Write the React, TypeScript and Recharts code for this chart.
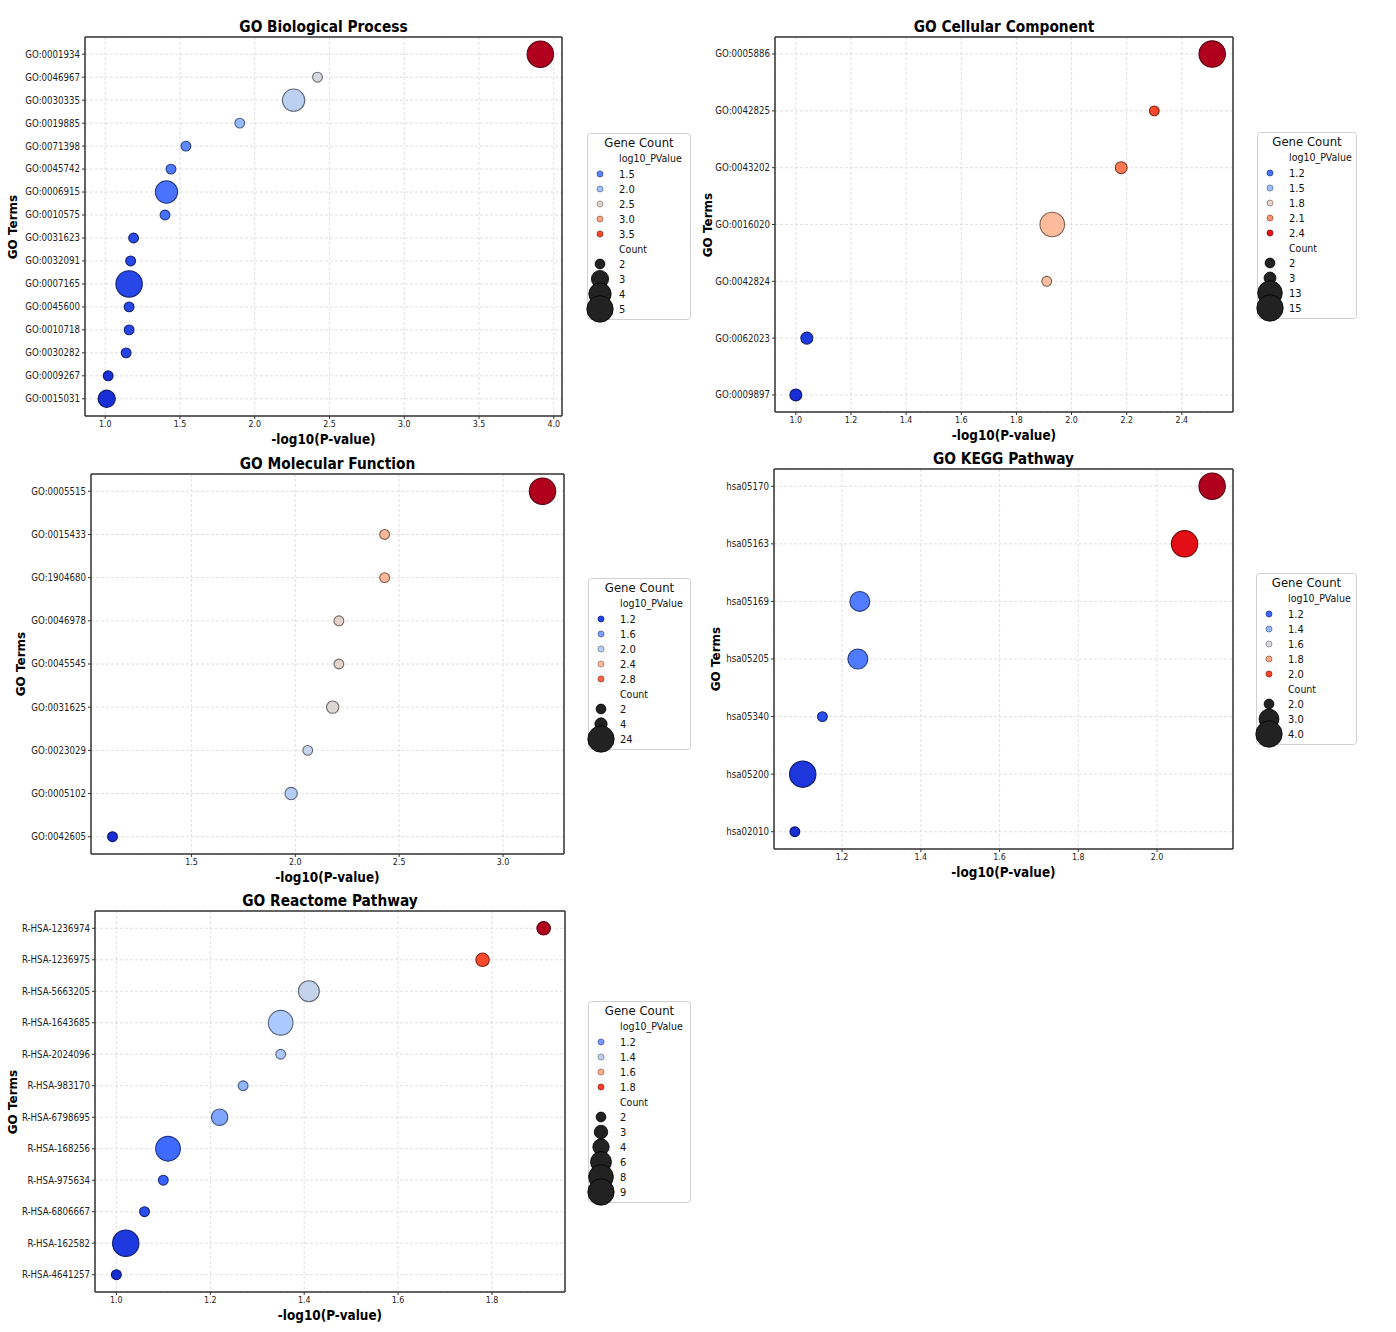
import React from "react";
import { ScatterChart, Scatter, XAxis, YAxis, ZAxis, CartesianGrid, Cell, ReferenceLine } from "recharts";

// GO Biological Process
const bpTerms = ["GO:0001934", "GO:0046967", "GO:0030335", "GO:0019885", "GO:0071398", "GO:0045742", "GO:0006915", "GO:0010575", "GO:0031623", "GO:0032091", "GO:0007165", "GO:0045600", "GO:0010718", "GO:0030282", "GO:0009267", "GO:0015031"];
const bpLogP = [3.91, 2.42, 2.26, 1.9, 1.54, 1.44, 1.41, 1.4, 1.19, 1.17, 1.16, 1.16, 1.16, 1.14, 1.02, 1.01];
const bpCount = [5, 2, 4, 2, 2, 2, 4, 2, 2, 2, 5, 2, 2, 2, 2, 3];
const bpXTicks = [1.0, 1.5, 2.0, 2.5, 3.0, 3.5, 4.0];
const bpColorTicks = [1.5, 2.0, 2.5, 3.0, 3.5];
const bpCountTicks = [2, 3, 4, 5];

// GO Cellular Component
const ccTerms = ["GO:0005886", "GO:0042825", "GO:0043202", "GO:0016020", "GO:0042824", "GO:0062023", "GO:0009897"];
const ccLogP = [2.51, 2.3, 2.18, 1.93, 1.91, 1.04, 1.0];
const ccCount = [15, 2, 3, 13, 2, 3, 3];
const ccXTicks = [1.0, 1.2, 1.4, 1.6, 1.8, 2.0, 2.2, 2.4];
const ccColorTicks = [1.2, 1.5, 1.8, 2.1, 2.4];
const ccCountTicks = [2, 3, 13, 15];

// GO Molecular Function
const mfTerms = ["GO:0005515", "GO:0015433", "GO:1904680", "GO:0046978", "GO:0045545", "GO:0031625", "GO:0023029", "GO:0005102", "GO:0042605"];
const mfLogP = [3.19, 2.43, 2.43, 2.21, 2.21, 2.18, 2.06, 1.98, 1.12];
const mfCount = [24, 2, 2, 2, 2, 4, 2, 4, 2];
const mfXTicks = [1.5, 2.0, 2.5, 3.0];
const mfColorTicks = [1.2, 1.6, 2.0, 2.4, 2.8];
const mfCountTicks = [2, 4, 24];

// KEGG
const keggTerms = ["hsa05170", "hsa05163", "hsa05169", "hsa05205", "hsa05340", "hsa05200", "hsa02010"];
const keggLogP = [2.14, 2.07, 1.245, 1.24, 1.15, 1.1, 1.08];
const keggCount = [4, 4, 3, 3, 2, 4, 2];
const keggXTicks = [1.2, 1.4, 1.6, 1.8, 2.0];
const keggColorTicks = [1.2, 1.4, 1.6, 1.8, 2.0];
const keggCountTicks = [2, 3, 4];

// Reactome
const reacTerms = ["R-HSA-1236974", "R-HSA-1236975", "R-HSA-5663205", "R-HSA-1643685", "R-HSA-2024096", "R-HSA-983170", "R-HSA-6798695", "R-HSA-168256", "R-HSA-975634", "R-HSA-6806667", "R-HSA-162582", "R-HSA-4641257"];
const reacLogP = [1.91, 1.78, 1.41, 1.35, 1.35, 1.27, 1.22, 1.11, 1.1, 1.06, 1.02, 1.0];
const reacCount = [3, 3, 6, 8, 2, 2, 4, 8, 2, 2, 9, 2];
const reacXTicks = [1.0, 1.2, 1.4, 1.6, 1.8];
const reacColorTicks = [1.2, 1.4, 1.6, 1.8];
const reacCountTicks = [2, 3, 4, 6, 8, 9];

const FONT = '"DejaVu Sans Condensed", "DejaVu Sans", sans-serif';
const R_MIN = 4.9;
const R_MAX = 13.2;
const AXW = 100;
const PAD = 12;
const XAH = 30;

// matplotlib coolwarm
const CW = [
  [59, 76, 192], [98, 130, 234], [141, 176, 254], [184, 208, 249], [221, 221, 221],
  [245, 196, 173], [244, 154, 123], [222, 96, 77], [180, 4, 38],
];

function hsl2rgb(h: number, s: number, l: number) {
  const c = (1 - Math.abs(2 * l - 1)) * s;
  const hp = h / 60;
  const x = c * (1 - Math.abs((hp % 2) - 1));
  let r = 0, g = 0, b = 0;
  if (hp < 1) [r, g, b] = [c, x, 0];
  else if (hp < 2) [r, g, b] = [x, c, 0];
  else if (hp < 3) [r, g, b] = [0, c, x];
  else if (hp < 4) [r, g, b] = [0, x, c];
  else if (hp < 5) [r, g, b] = [x, 0, c];
  else [r, g, b] = [c, 0, x];
  const m = l - c / 2;
  return [r + m, g + m, b + m].map((v) => v * 255);
}

function coolwarm(t: number) {
  const tt = Math.max(0, Math.min(1, t)) * 8;
  const i = Math.min(7, Math.floor(tt));
  const f = tt - i;
  const c = CW[i].map((v, k) => Math.pow((v + (CW[i + 1][k] - v) * f) / 255, 1.1));
  const mx = Math.max(...c);
  const mn = Math.min(...c);
  const l = (mx + mn) / 2;
  const d = mx - mn;
  if (d < 1e-6) return c.map((v) => v * 255);
  let s = d / (1 - Math.abs(2 * l - 1));
  let h = 0;
  if (mx === c[0]) h = 60 * (((c[1] - c[2]) / d) % 6);
  else if (mx === c[1]) h = 60 * ((c[2] - c[0]) / d + 2);
  else h = 60 * ((c[0] - c[1]) / d + 4);
  if (h < 0) h += 360;
  s = Math.min(1, s * 1.4);
  return hsl2rgb(h, s, l);
}
const rgb = (c: number[], k = 1) => `rgb(${c.map((v) => Math.round(v * k)).join(",")})`;

type PanelDef = {
  title: string;
  terms: string[];
  logp: number[];
  count: number[];
  xTicks: number[];
  colorTicks: number[];
  countTicks: number[];
  countDigits: number;
  box: [number, number, number, number];
  yLabelX: number;
  legend: [number, number, number];
};

const panels: PanelDef[] = [
  { title: "GO Biological Process", terms: bpTerms, logp: bpLogP, count: bpCount, xTicks: bpXTicks, colorTicks: bpColorTicks, countTicks: bpCountTicks, countDigits: 0, box: [85, 37, 562, 416], yLabelX: 13, legend: [587, 133, 104] },
  { title: "GO Cellular Component", terms: ccTerms, logp: ccLogP, count: ccCount, xTicks: ccXTicks, colorTicks: ccColorTicks, countTicks: ccCountTicks, countDigits: 0, box: [775, 37, 1233, 412], yLabelX: 708, legend: [1257, 132, 100] },
  { title: "GO Molecular Function", terms: mfTerms, logp: mfLogP, count: mfCount, xTicks: mfXTicks, colorTicks: mfColorTicks, countTicks: mfCountTicks, countDigits: 0, box: [91, 474, 564, 854], yLabelX: 21, legend: [588, 578, 103] },
  { title: "GO KEGG Pathway", terms: keggTerms, logp: keggLogP, count: keggCount, xTicks: keggXTicks, colorTicks: keggColorTicks, countTicks: keggCountTicks, countDigits: 1, box: [774, 469, 1233, 849], yLabelX: 716, legend: [1256, 573, 101] },
  { title: "GO Reactome Pathway", terms: reacTerms, logp: reacLogP, count: reacCount, xTicks: reacXTicks, colorTicks: reacColorTicks, countTicks: reacCountTicks, countDigits: 0, box: [95, 911, 565, 1292], yLabelX: 13, legend: [588, 1001, 103] },
];

function sizeRadius(c: number, lo: number, hi: number) {
  const t = hi > lo ? (c - lo) / (hi - lo) : 0;
  return Math.sqrt(R_MIN * R_MIN + t * (R_MAX * R_MAX - R_MIN * R_MIN));
}

function Legend({ p }: { p: PanelDef }) {
  const [lx, ly, lw] = p.legend;
  const lo = Math.min(...p.logp);
  const hi = Math.max(...p.logp);
  const cLo = Math.min(...p.count);
  const cHi = Math.max(...p.count);
  const nc = p.colorTicks.length;
  const h = 41 + 15 * (nc + p.countTicks.length) + 11;
  const mx = 13;
  const tx = 32;
  return (
    <svg style={{ position: "absolute", left: lx, top: ly, overflow: "visible" }} width={lw} height={h} fontFamily={FONT}>
      <rect x={0.5} y={0.5} width={lw - 1} height={h - 1} rx={3} fill="#fff" stroke="#d0d0d0" />
      <text x={lw / 2} y={9} textAnchor="middle" dominantBaseline="central" fontSize={13} fill="#111">Gene Count</text>
      <text x={tx} y={25} dominantBaseline="central" fontSize={10.5} fill="#111">log10_PValue</text>
      {p.colorTicks.map((v, i) => {
        const c = coolwarm((v - lo) / (hi - lo));
        return (
          <g key={`c${i}`}>
            <circle cx={mx} cy={41 + 15 * i} r={3} fill={rgb(c)} stroke={rgb(c, 0.6)} strokeWidth={0.8} />
            <text x={tx} y={41 + 15 * i} dominantBaseline="central" fontSize={11} fill="#111">{v.toFixed(1)}</text>
          </g>
        );
      })}
      <text x={tx} y={41 + 15 * nc} dominantBaseline="central" fontSize={10.5} fill="#111">Count</text>
      {p.countTicks.map((v, j) => {
        const y = 41 + 15 * (nc + 1 + j);
        return (
          <g key={`s${j}`}>
            <circle cx={mx} cy={y} r={sizeRadius(v, cLo, cHi)} fill="#222" stroke="#000" strokeWidth={0.8} />
            <text x={tx} y={y} dominantBaseline="central" fontSize={11} fill="#111">{v.toFixed(p.countDigits)}</text>
          </g>
        );
      })}
    </svg>
  );
}

function Panel({ p }: { p: PanelDef }) {
  const [x0, y0, x1, y1] = p.box;
  const n = p.terms.length;
  const lo = Math.min(...p.logp);
  const hi = Math.max(...p.logp);
  const xr = hi - lo;
  const xDomain = [lo - 0.05 * xr, hi + 0.05 * xr];
  const yDomain = [-0.05 * (n - 1), (n - 1) * 1.05];
  const cLo = Math.min(...p.count);
  const cHi = Math.max(...p.count);
  const data = p.terms.map((t, i) => ({ term: t, x: p.logp[i], y: i, count: p.count[i] }));
  const cx = (x0 + x1) / 2;
  const cy = (y0 + y1) / 2;
  const frame = { stroke: "#333", strokeWidth: 1.5 };
  return (
    <>
      <div style={{ position: "absolute", left: cx, top: y0 - 9, transform: "translate(-50%,-50%)", whiteSpace: "nowrap", fontFamily: FONT, fontWeight: "bold", fontSize: 15.3, lineHeight: 1, color: "#000" }}>
        {p.title}
      </div>
      <div style={{ position: "absolute", left: cx, top: y1 + 24, transform: "translate(-50%,-50%)", whiteSpace: "nowrap", fontFamily: FONT, fontWeight: "bold", fontSize: 13.4, lineHeight: 1, color: "#000" }}>
        -log10(P-value)
      </div>
      <div style={{ position: "absolute", left: p.yLabelX, top: cy, transform: "translate(-50%,-50%) rotate(-90deg)", whiteSpace: "nowrap", fontFamily: '"DejaVu Sans", sans-serif', fontWeight: "bold", fontSize: 12, lineHeight: 1, color: "#000" }}>
        GO Terms
      </div>
      <div style={{ position: "absolute", left: x0 - AXW, top: y0 - PAD }}>
        <ScatterChart
          width={x1 - x0 + AXW + PAD}
          height={y1 - y0 + PAD + XAH}
          margin={{ top: PAD, right: PAD, bottom: 0, left: 0 }}
        >
          <CartesianGrid stroke="#d8d8d8" strokeDasharray="3 2" strokeWidth={0.8} />
          <XAxis
            type="number"
            dataKey="x"
            domain={xDomain}
            ticks={p.xTicks}
            interval={0}
            tickFormatter={(v: number) => v.toFixed(1)}
            height={XAH}
            tickSize={3}
            tickMargin={2}
            tick={{ fontSize: 8.8, fill: "#222", fontFamily: FONT }}
            tickLine={{ stroke: "#333" }}
            axisLine={frame}
          />
          <YAxis
            type="number"
            dataKey="y"
            domain={yDomain}
            reversed
            ticks={data.map((d) => d.y)}
            interval={0}
            tickFormatter={(v: number) => p.terms[v] ?? ""}
            width={AXW}
            tickSize={3}
            tickMargin={2}
            tick={{ fontSize: 9.6, fill: "#222", fontFamily: FONT }}
            tickLine={{ stroke: "#333" }}
            axisLine={frame}
          />
          <ZAxis type="number" dataKey="count" domain={[cLo, cHi]} range={[Math.PI * R_MIN * R_MIN, Math.PI * R_MAX * R_MAX]} />
          <ReferenceLine y={yDomain[0]} stroke="#333" strokeWidth={1.5} />
          <ReferenceLine x={xDomain[1]} stroke="#333" strokeWidth={1.5} />
          <Scatter data={data} isAnimationActive={false} strokeWidth={1.1}>
            {data.map((d, i) => {
              const c = coolwarm((d.x - lo) / xr);
              return <Cell key={`pt-${i}`} fill={rgb(c)} stroke={rgb(c, 0.5)} />;
            })}
          </Scatter>
        </ScatterChart>
      </div>
      <Legend p={p} />
    </>
  );
}

export default function App() {
  return (
    <div style={{ position: "absolute", left: 0, top: 0, width: 1396, height: 1332, background: "#fff", overflow: "hidden" }}>
      {panels.map((p) => (
        <Panel key={p.title} p={p} />
      ))}
    </div>
  );
}
